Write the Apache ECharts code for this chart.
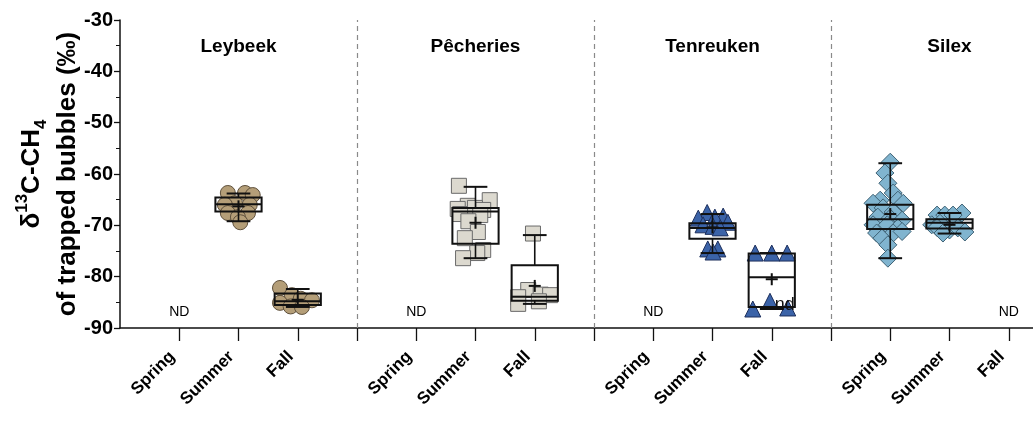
<!DOCTYPE html>
<html><head><meta charset="utf-8">
<script src="https://cdn.jsdelivr.net/npm/echarts@6/dist/echarts.min.js"></script>
<style>html,body{margin:0;padding:0;background:#fff;}#c{width:1033px;height:424px;}</style>
</head><body><div id="c"></div>
<script>
// ---------- data ----------
const sites = ['Leybeek', 'Pêcheries', 'Tenreuken', 'Silex'];
const seasons = ['Spring', 'Summer', 'Fall'];
const yTicks = [-90, -80, -70, -60, -50, -40, -30];

// individual δ13C values (‰)
const leybeekSummer = [-63.7, -63.7, -64.1, -65.7, -66.0, -66.0, -67.6, -67.6, -68.4, -69.4];
const leybeekFall = [-82.2, -83.6, -84.3, -84.6, -85.1, -85.8, -85.9];
const pecheriesSummer = [-62.3, -65.1, -66.2, -66.6, -66.8, -67.0, -67.8, -68.0, -69.2, -71.3, -72.5, -74.8, -75.4, -76.4];
const pecheriesFall = [-71.6, -82.6, -83.5, -83.6, -84.0, -84.8, -85.3];
const tenreukenSummer = [-67.5, -68.2, -68.4, -68.6, -69.4, -69.9, -70.2, -70.5, -74.6, -74.6, -75.2];
const tenreukenFall = [-75.4, -75.4, -75.4, -84.8, -86.1, -86.3];
const silexSpring = [-57.7, -59.8, -61.8, -63.7, -65.1, -65.1, -65.7, -65.7, -66.6, -67.4, -68.4, -68.6, -69.0, -69.9, -69.9, -70.5, -71.5, -71.5, -71.2, -72.5, -73.8, -76.4];
const silexSummer = [-67.6, -68.0, -68.0, -68.0, -69.9, -69.6, -70.4, -70.9, -70.5, -71.3, -71.5];

// box statistics: [min, Q1, median, Q3, max, mean]
const leybeekSummerBox = [-69.2, -67.3, -65.9, -64.6, -63.8, -66.3];
const leybeekFallBox = [-85.9, -85.5, -84.8, -83.3, -82.4, -84.5];
const pecheriesSummerBox = [-76.4, -73.6, -67.3, -66.6, -62.5, -69.5];
const pecheriesFallBox = [-85.3, -84.7, -83.9, -77.8, -71.9, -81.8];
const tenreukenSummerBox = [-75.4, -72.6, -70.5, -69.6, -67.8, -70.4];
const tenreukenFallBox = [-86.3, -85.9, -80.1, -75.5, -75.4, -80.5];
const silexSpringBox = [-76.4, -70.7, -68.8, -66.0, -57.9, -67.8];
const silexSummerBox = [-71.6, -70.6, -69.5, -68.8, -67.6, -69.9];

// not-determined groups: [site index, season index]
const ndGroups = [[0, 0], [1, 0], [2, 0], [3, 2]];

// ---------- layout (horizontal jitter of points, in category units) ----------
const jitter = {
  leybeekSummer: [-0.18, 0.11, 0.24, -0.06, -0.23, 0.19, -0.18, 0.16, -0.01, 0.03],
  leybeekFall: [-0.30, -0.10, 0.05, 0.24, -0.30, -0.12, 0.07],
  pecheriesSummer: [-0.28, 0.24, -0.13, -0.01, -0.30, 0.13, -0.26, 0.08, -0.12, 0.04, -0.18, 0.13, 0.03, -0.21],
  pecheriesFall: [-0.03, -0.11, 0.10, 0.26, -0.28, 0.07, -0.28],
  tenreukenSummer: [-0.09, 0.18, 0.04, -0.24, 0.26, -0.16, 0.01, 0.13, -0.08, 0.09, 0.01],
  tenreukenFall: [-0.28, 0.0, 0.26, -0.03, 0.27, -0.32],
  silexSpring: [0.0, -0.09, -0.04, 0.05, -0.17, 0.13, -0.29, 0.22, -0.12, 0.05, -0.21, 0.0, 0.2, -0.29, -0.05, 0.13, -0.23, 0.05, 0.2, -0.14, -0.04, -0.04],
  silexSummer: [0.21, -0.21, -0.08, 0.06, -0.3, -0.16, -0.21, 0.0, 0.14, 0.26, -0.11]
};

const slot = (s, k) => s * 4 + k + 1;
const pts = (vals, jit, s, k) => vals.map((v, i) => [slot(s, k) + jit[i], v]);

const groups = [
  { s: 0, k: 1, vals: leybeekSummer, jit: jitter.leybeekSummer, box: leybeekSummerBox, sym: 'circle', size: 15, fill: '#b49e78', stroke: '#5e503c' },
  { s: 0, k: 2, vals: leybeekFall, jit: jitter.leybeekFall, box: leybeekFallBox, sym: 'circle', size: 15, fill: '#b49e78', stroke: '#5e503c' },
  { s: 1, k: 1, vals: pecheriesSummer, jit: jitter.pecheriesSummer, box: pecheriesSummerBox, sym: 'rect', size: 15, fill: '#dcd9cf', stroke: '#6a6a6a' },
  { s: 1, k: 2, vals: pecheriesFall, jit: jitter.pecheriesFall, box: pecheriesFallBox, sym: 'rect', size: 15, fill: '#dcd9cf', stroke: '#6a6a6a' },
  { s: 2, k: 1, vals: tenreukenSummer, jit: jitter.tenreukenSummer, box: tenreukenSummerBox, sym: 'triangle', size: 16, fill: '#3b63a8', stroke: '#1d2f5c' },
  { s: 2, k: 2, vals: tenreukenFall, jit: jitter.tenreukenFall, box: tenreukenFallBox, sym: 'triangle', size: 16, fill: '#3b63a8', stroke: '#1d2f5c' },
  { s: 3, k: 0, vals: silexSpring, jit: jitter.silexSpring, box: silexSpringBox, sym: 'diamond', size: 18, fill: '#80b4cf', stroke: '#3f6275' },
  { s: 3, k: 1, vals: silexSummer, jit: jitter.silexSummer, box: silexSummerBox, sym: 'diamond', size: 18, fill: '#80b4cf', stroke: '#3f6275' }
];

const FONT = 'Liberation Sans, Arial, sans-serif';
const series = [];
groups.forEach(g => {
  series.push({
    type: 'scatter', data: pts(g.vals, g.jit, g.s, g.k), symbol: g.sym, symbolSize: g.size,
    itemStyle: { color: g.fill, borderColor: g.stroke, borderWidth: 1, opacity: 1 },
    z: 2, silent: true
  });
});

function renderBox(params, api) {
  const x = api.value(0);
  const mn = api.value(1), q1 = api.value(2), md = api.value(3), q3 = api.value(4), mx = api.value(5), mean = api.value(6);
  const c = v => api.coord([x, v]);
  const hw = api.size([0.39, 0])[0];
  const cw = api.size([0.2, 0])[0];
  const pMin = c(mn), pQ1 = c(q1), pMd = c(md), pQ3 = c(q3), pMx = c(mx), pMean = c(mean);
  const cx = pMd[0];
  const st = { stroke: '#111', lineWidth: 2, fill: null };
  const st1 = { stroke: '#111', lineWidth: 1.6, fill: null };
  return {
    type: 'group',
    children: [
      { type: 'line', shape: { x1: cx, y1: pQ3[1], x2: cx, y2: pMx[1] }, style: st1 },
      { type: 'line', shape: { x1: cx, y1: pQ1[1], x2: cx, y2: pMin[1] }, style: st1 },
      { type: 'line', shape: { x1: cx - cw, y1: pMx[1], x2: cx + cw, y2: pMx[1] }, style: st },
      { type: 'line', shape: { x1: cx - cw, y1: pMin[1], x2: cx + cw, y2: pMin[1] }, style: st },
      { type: 'rect', shape: { x: cx - hw, y: pQ3[1], width: 2 * hw, height: pQ1[1] - pQ3[1] }, style: { stroke: '#111', lineWidth: 2, fill: 'none' } },
      { type: 'line', shape: { x1: cx - hw, y1: pMd[1], x2: cx + hw, y2: pMd[1] }, style: st },
      { type: 'line', shape: { x1: cx - 6, y1: pMean[1], x2: cx + 6, y2: pMean[1] }, style: st },
      { type: 'line', shape: { x1: cx, y1: pMean[1] - 6, x2: cx, y2: pMean[1] + 6 }, style: st }
    ]
  };
}

series.push({
  type: 'custom', renderItem: renderBox, z: 5, silent: true,
  data: groups.map(g => [slot(g.s, g.k)].concat(g.box)),
  markLine: {
    silent: true, symbol: 'none', label: { show: false },
    lineStyle: { color: '#8a8a8a', type: [5, 4], width: 1.2 },
    data: [{ xAxis: 4 }, { xAxis: 8 }, { xAxis: 12 }]
  }
});

// panel titles
series.push({
  type: 'scatter', symbolSize: 0, silent: true, z: 6, itemStyle: { opacity: 1 },
  data: sites.map((name, s) => ({ value: [slot(s, 1), -35.3], name })),
  label: { show: true, position: 'inside', formatter: p => p.name, color: '#000', fontSize: 19, fontWeight: 'bold', fontFamily: FONT }
});
// ND labels
series.push({
  type: 'scatter', symbolSize: 0, silent: true, z: 6, itemStyle: { opacity: 1 },
  data: ndGroups.map(([s, k]) => ({ value: [slot(s, k), -87.0], name: 'ND' })),
  label: { show: true, position: 'inside', formatter: 'ND', color: '#000', fontSize: 14, fontFamily: FONT }
});
// "nd" annotation inside Tenreuken fall box
series.push({
  type: 'scatter', symbolSize: 0, silent: true, z: 7, itemStyle: { opacity: 1 },
  data: [{ value: [slot(2, 2) + 0.22, -85.6], name: 'nd' }],
  label: { show: true, position: 'inside', formatter: 'nd', color: '#111', fontSize: 18, fontFamily: FONT }
});

const tickSlots = [];
for (let v = 1; v < 16; v++) tickSlots.push(v);
const labelSlots = tickSlots.filter(v => v % 4 !== 0);

const chart = echarts.init(document.getElementById('c'), null, { renderer: 'canvas' });
chart.setOption({
  animation: false,
  backgroundColor: '#fff',
  grid: { left: 120, top: 20, width: 948, height: 308, containLabel: false, outerBoundsMode: 'none' },
  xAxis: {
    type: 'value', min: 0, max: 16, interval: 1,
    axisLine: { show: true, onZero: false, lineStyle: { color: '#111', width: 1.5 } },
    axisTick: { show: true, customValues: tickSlots, length: 13, lineStyle: { color: '#111', width: 1.3 } },
    axisLabel: {
      customValues: labelSlots, rotate: 45, margin: 19, color: '#000', fontSize: 17, fontWeight: 'bold',
      fontFamily: FONT, padding: [0, 10, 0, 0],
      formatter: v => seasons[(Math.round(v) % 4) - 1] || ''
    },
    splitLine: { show: false }
  },
  yAxis: {
    type: 'value', min: yTicks[0], max: yTicks[yTicks.length - 1], interval: 10,
    axisLine: { show: true, lineStyle: { color: '#111', width: 1.5 } },
    axisTick: { show: true, length: 6, lineStyle: { color: '#111', width: 1.3 } },
    minorTick: { show: true, splitNumber: 2, length: 4, lineStyle: { color: '#111', width: 1 } },
    axisLabel: { color: '#000', fontSize: 20, fontWeight: 'bold', margin: 7, fontFamily: FONT },
    splitLine: { show: false },
    name: '{m|δ}{sup|13}{m|C-CH}{sub|4}\n{m|of trapped bubbles (‰)}',
    nameLocation: 'middle', nameRotate: 90, nameGap: 34, nameMoveOverlap: false,
    nameTextStyle: {
      color: '#000', fontWeight: 'bold', fontSize: 26, fontFamily: FONT, lineHeight: 36, align: 'center',
      rich: {
        m: { fontSize: 26, fontWeight: 'bold', lineHeight: 36, color: '#000', fontFamily: FONT },
        sup: { fontSize: 17, fontWeight: 'bold', verticalAlign: 'top', lineHeight: 24, color: '#000', fontFamily: FONT },
        sub: { fontSize: 17, fontWeight: 'bold', verticalAlign: 'bottom', lineHeight: 24, color: '#000', fontFamily: FONT }
      }
    }
  },
  series
});
</script>
</body></html>
